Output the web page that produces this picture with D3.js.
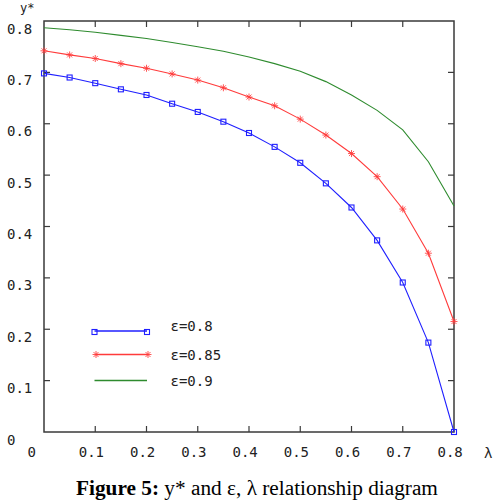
<!DOCTYPE html>
<html><head><meta charset="utf-8">
<script src="https://cdn.jsdelivr.net/npm/d3@7"></script>
<style>
html,body{margin:0;padding:0;background:#fff;}
svg{display:block;}
</style></head>
<body>
<script>
// ---- data ----
const lambdaVals = [0,0.05,0.1,0.15,0.2,0.25,0.3,0.35,0.4,0.45,0.5,0.55,0.6,0.65,0.7,0.75,0.8];
const eps08  = [0.698,0.690,0.679,0.667,0.656,0.639,0.623,0.604,0.582,0.555,0.524,0.484,0.437,0.373,0.291,0.174,0.000];
const eps085 = [0.742,0.734,0.727,0.717,0.708,0.697,0.685,0.670,0.652,0.635,0.609,0.578,0.542,0.497,0.434,0.348,0.215];
const eps09  = [0.787,0.783,0.778,0.772,0.766,0.758,0.750,0.741,0.730,0.717,0.702,0.682,0.656,0.626,0.588,0.526,0.440];
const xTicks = [0,0.1,0.2,0.3,0.4,0.5,0.6,0.7,0.8];
const yTicks = [0,0.1,0.2,0.3,0.4,0.5,0.6,0.7,0.8];
const xTickLabels = ["0","0.1","0.2","0.3","0.4","0.5","0.6","0.7","0.8"];
const yTickLabels = ["0","0.1","0.2","0.3","0.4","0.5","0.6","0.7","0.8"];
const seriesNames = ["ε=0.8","ε=0.85","ε=0.9"];

const W=496,H=504;
const svg=d3.select("body").append("svg").attr("width",W).attr("height",H);
const x=d3.scaleLinear().domain([0,0.8]).range([44,454]);
const y=d3.scaleLinear().domain([0,0.8]).range([432,21]);
const mono="'DejaVu Sans Mono', monospace";
const axisCol="#3a3a3a", txtCol="#222";

// frame
svg.append("rect").attr("x",x(0)).attr("y",y(0.8)).attr("width",x(0.8)-x(0)).attr("height",y(0)-y(0.8))
  .attr("fill","none").attr("stroke",axisCol).attr("stroke-width",1.5);
const tl=6;
const inner=xTicks.filter(v=>v>0&&v<0.8);
svg.append("g").selectAll("line.b").data(inner).join("line")
  .attr("x1",d=>x(d)).attr("x2",d=>x(d)).attr("y1",y(0)).attr("y2",y(0)-tl).attr("stroke",axisCol).attr("stroke-width",1.2);
svg.append("g").selectAll("line.t").data(inner).join("line")
  .attr("x1",d=>x(d)).attr("x2",d=>x(d)).attr("y1",y(0.8)).attr("y2",y(0.8)+tl).attr("stroke",axisCol).attr("stroke-width",1.2);
const innerY=yTicks.filter(v=>v>0&&v<0.8);
svg.append("g").selectAll("line.l").data(innerY).join("line")
  .attr("x1",x(0)).attr("x2",x(0)+tl).attr("y1",d=>y(d)).attr("y2",d=>y(d)).attr("stroke",axisCol).attr("stroke-width",1.2);
svg.append("g").selectAll("line.r").data(innerY).join("line")
  .attr("x1",x(0.8)).attr("x2",x(0.8)-tl).attr("y1",d=>y(d)).attr("y2",d=>y(d)).attr("stroke",axisCol).attr("stroke-width",1.2);

// tick labels
svg.append("g").selectAll("text").data(xTicks).join("text")
  .attr("x",d=>x(d)-16.5).attr("y",457).attr("font-family",mono).attr("font-size",14).attr("fill",txtCol)
  .text((d,i)=>xTickLabels[i]);
svg.append("g").selectAll("text").data(yTicks).join("text")
  .attr("x",7).attr("y",d=>y(d)+12.5).attr("font-family",mono).attr("font-size",14).attr("fill",txtCol)
  .text((d,i)=>yTickLabels[i]);
svg.append("text").attr("x",20).attr("y",12).attr("font-family",mono).attr("font-size",12).attr("fill",txtCol).text("y*");
svg.append("text").attr("x",484).attr("y",458).attr("font-family",mono).attr("font-size",14).attr("fill",txtCol).text("λ");

// series
const line=d3.line().x((d,i)=>x(lambdaVals[i])).y(d=>y(d));
const cols=["#1f1fff","#ff3b3b","#2e8b2e"];
svg.append("path").datum(eps09).attr("d",line).attr("fill","none").attr("stroke",cols[2]).attr("stroke-width",1.1);
svg.append("path").datum(eps085).attr("d",line).attr("fill","none").attr("stroke",cols[1]).attr("stroke-width",1.1);
svg.append("path").datum(eps08).attr("d",line).attr("fill","none").attr("stroke",cols[0]).attr("stroke-width",1.1);

function square(g,cx,cy,c){
  g.append("rect").attr("x",cx-2.5).attr("y",cy-2.5).attr("width",5).attr("height",5)
   .attr("fill","none").attr("stroke",c).attr("stroke-width",1.1);
}
function star(g,cx,cy,c){
  const r=3.5,d=2.5;
  const p=`M${cx-r},${cy}L${cx+r},${cy}M${cx},${cy-r}L${cx},${cy+r}M${cx-d},${cy-d}L${cx+d},${cy+d}M${cx-d},${cy+d}L${cx+d},${cy-d}`;
  g.append("path").attr("d",p).attr("stroke",c).attr("stroke-width",1).attr("fill","none").attr("opacity",0.85);
}
const gm=svg.append("g");
eps08.forEach((v,i)=>square(gm,x(lambdaVals[i]),y(v),cols[0]));
eps085.forEach((v,i)=>star(gm,x(lambdaVals[i]),y(v),cols[1]));

// legend
const lg=svg.append("g");
const ly=[331,354.5,380.5], lty=[331,360,386];
lg.append("line").attr("x1",94.5).attr("x2",147).attr("y1",ly[0]).attr("y2",ly[0]).attr("stroke",cols[0]).attr("stroke-width",1.3);
square(lg,94.5,ly[0]+1,cols[0]); square(lg,147,ly[0]+1,cols[0]);
lg.append("line").attr("x1",96).attr("x2",148).attr("y1",ly[1]).attr("y2",ly[1]).attr("stroke",cols[1]).attr("stroke-width",1.6);
star(lg,96,ly[1],cols[1]); star(lg,148,ly[1],cols[1]);
lg.append("line").attr("x1",94.5).attr("x2",147).attr("y1",ly[2]).attr("y2",ly[2]).attr("stroke",cols[2]).attr("stroke-width",1.3);
seriesNames.forEach((s,i)=>{
  lg.append("text").attr("x",170.5).attr("y",lty[i]).attr("font-family",mono).attr("font-size",14).attr("fill",txtCol).text(s);
});

// caption
const cap=svg.append("text").attr("x",76).attr("y",495).attr("font-family","'Liberation Serif','Times New Roman',serif").attr("font-size",21.3).attr("fill","#000");
cap.append("tspan").attr("font-weight","bold").text("Figure 5:");
cap.append("tspan").text(" y* and ε, λ relationship diagram");
</script>
</body></html>
